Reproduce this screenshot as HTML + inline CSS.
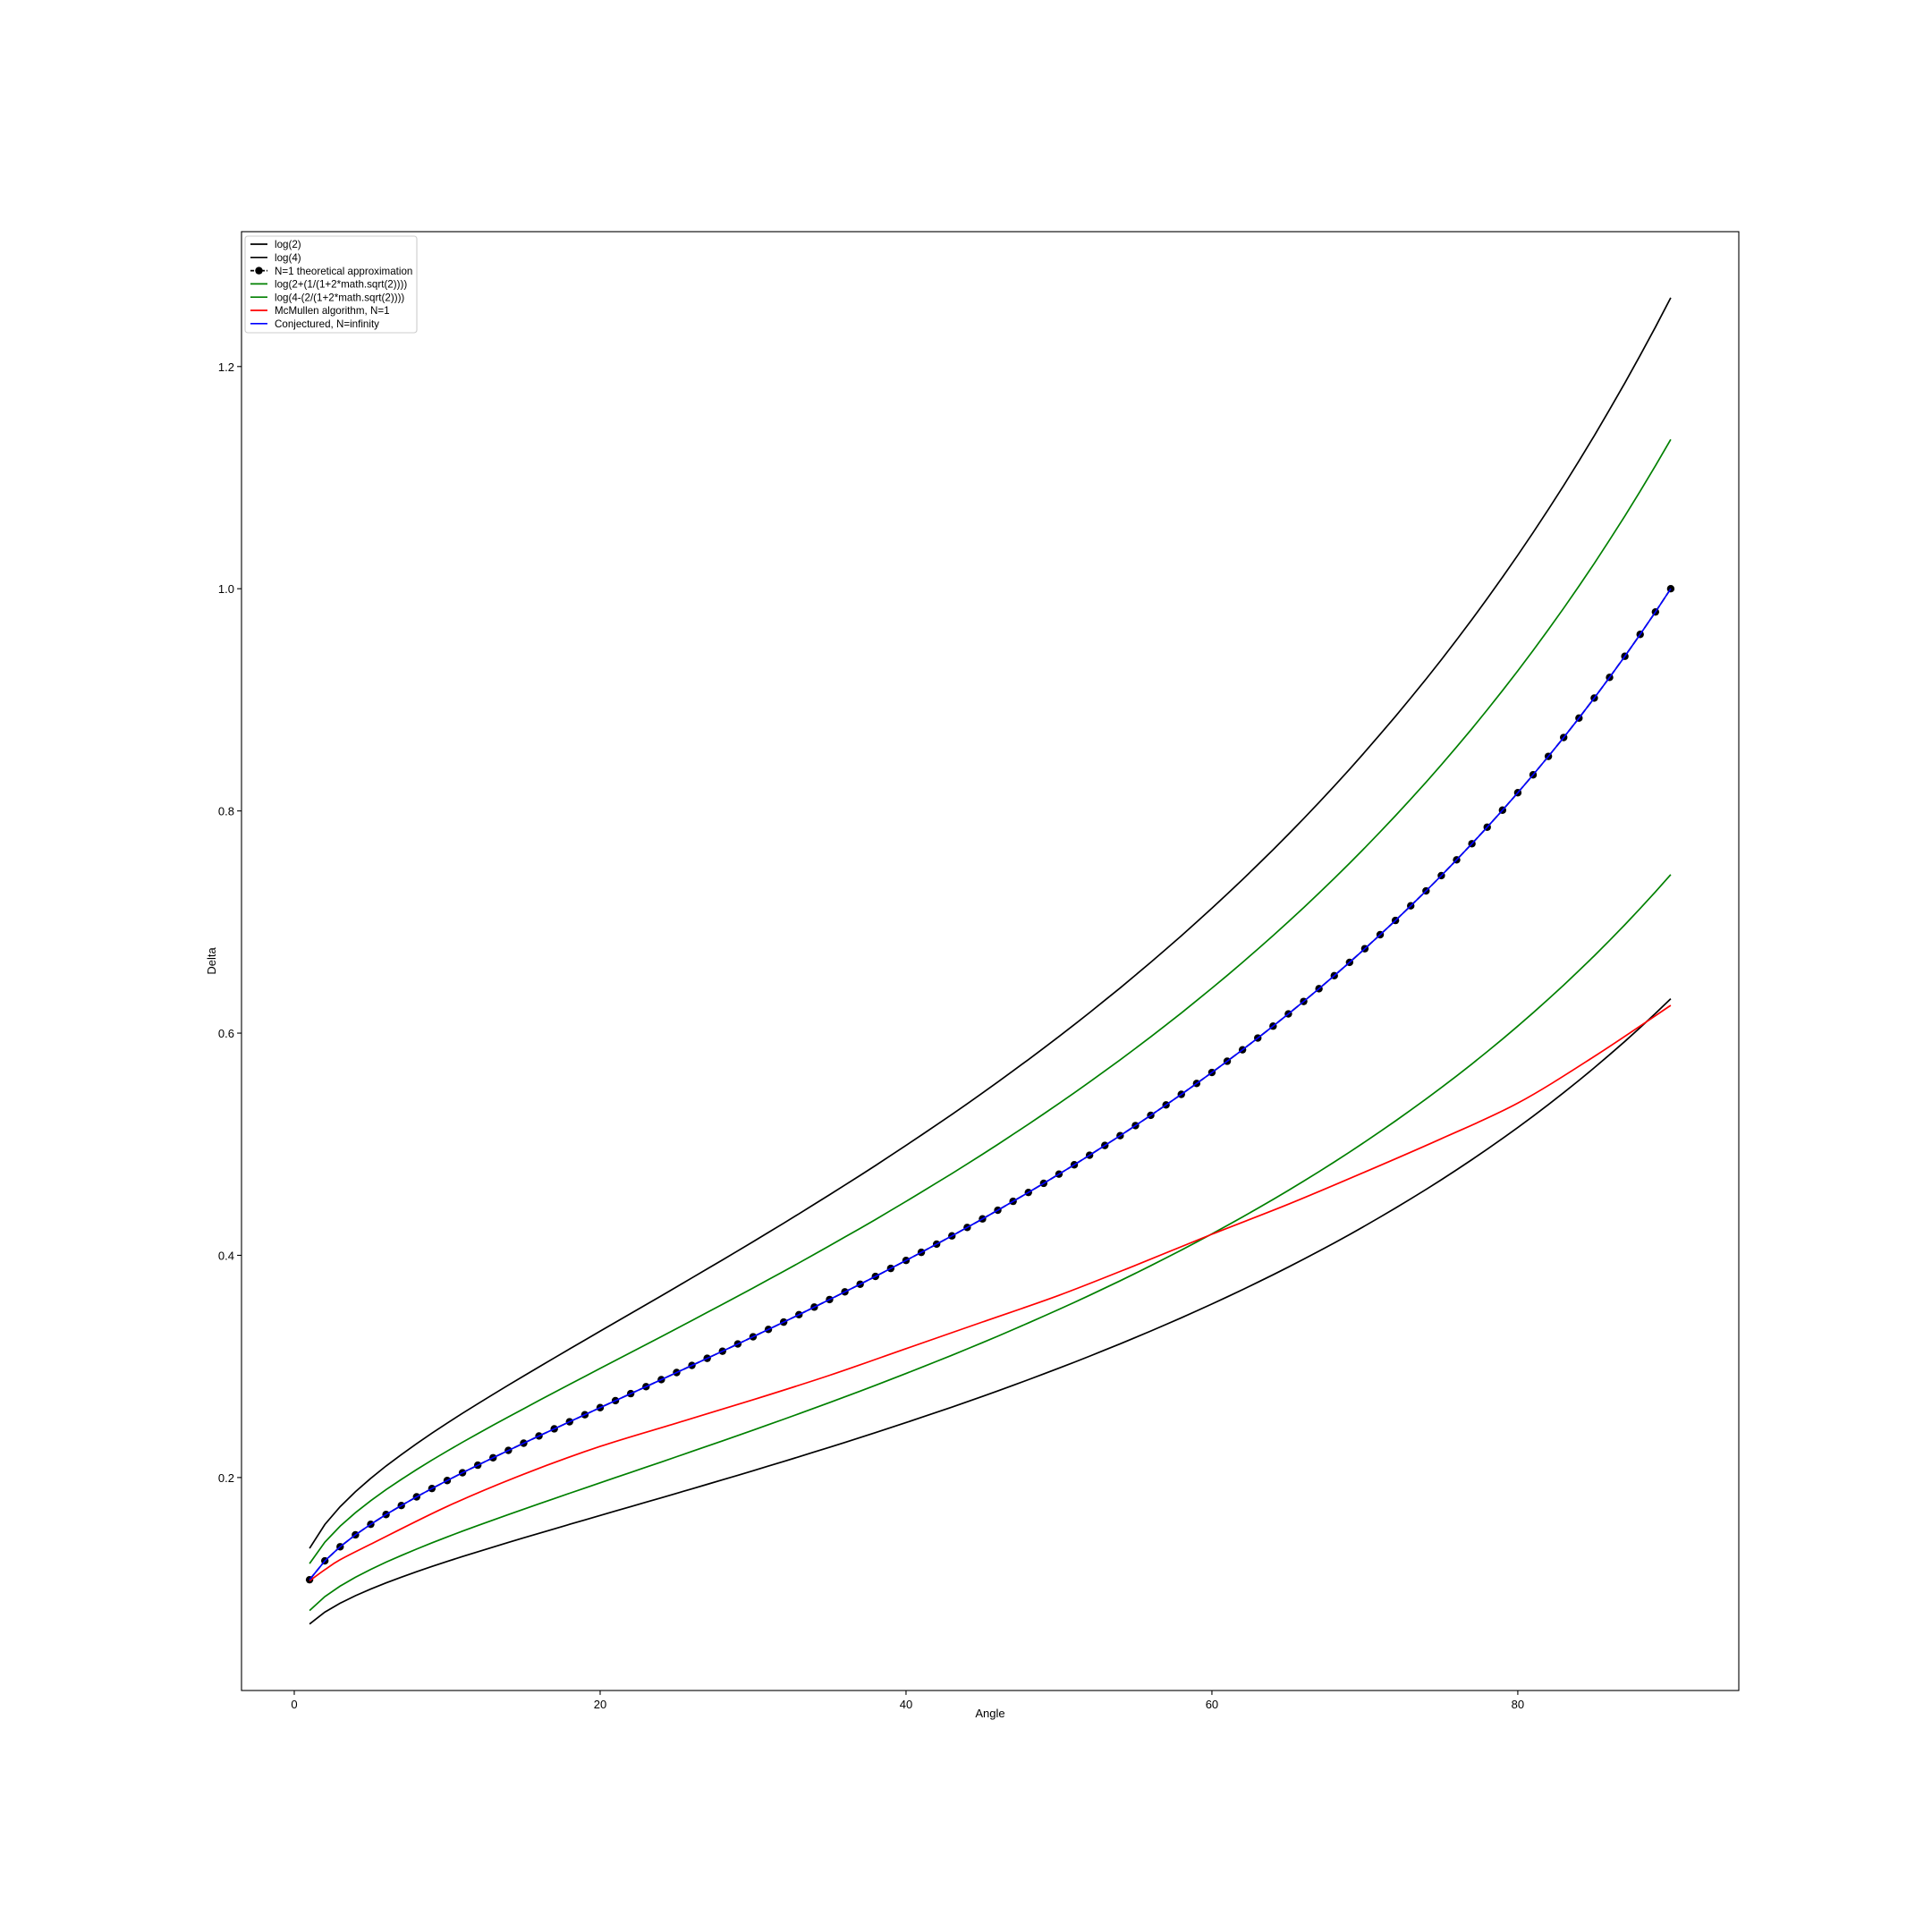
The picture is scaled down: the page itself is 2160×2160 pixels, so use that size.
<!DOCTYPE html>
<html><head><meta charset="utf-8"><style>
html,body{margin:0;padding:0;background:#fff;}
svg{display:block;font-family:"Liberation Sans","DejaVu Sans",sans-serif;}
</style></head><body>
<svg id="chart" width="2160" height="2160" viewBox="0 0 2160 2160" xmlns="http://www.w3.org/2000/svg">
<rect x="0" y="0" width="2160" height="2160" fill="#fff"/>
<g id="marks"></g>
<g id="axes"></g>
<g id="legend"></g>
</svg>
<script>
const conjectured = [0.1080,0.1250,0.1377,0.1484,0.1579,0.1667,0.1748,0.1826,0.1901,0.1973,
0.2043,0.2111,0.2178,0.2244,0.2309,0.2374,0.2438,0.2502,0.2565,0.2629,
0.2692,0.2755,0.2818,0.2881,0.2945,0.3009,0.3073,0.3137,0.3202,0.3267,
0.3333,0.3399,0.3466,0.3534,0.3602,0.3671,0.3740,0.3810,0.3882,0.3954,
0.4027,0.4101,0.4175,0.4251,0.4328,0.4406,0.4486,0.4566,0.4648,0.4731,
0.4815,0.4901,0.4989,0.5077,0.5168,0.5260,0.5354,0.5449,0.5547,0.5646,
0.5747,0.5850,0.5956,0.6063,0.6173,0.6285,0.6400,0.6517,0.6637,0.6760,
0.6886,0.7014,0.7146,0.7280,0.7418,0.7560,0.7705,0.7854,0.8007,0.8164,
0.8325,0.8491,0.8661,0.8836,0.9016,0.9202,0.9392,0.9589,0.9791,1.0000];
const boundFactors = [0.6309, 1.2619, 0.7427, 1.1344];
const boundLabels = ["log(2)","log(4)","log(2+(1/(1+2*math.sqrt(2))))","log(4-(2/(1+2*math.sqrt(2))))"];
const boundColors = ["#000","#000","#008000","#008000"];
const mcAngles = [1,2,3,5,10,15,20,25,30,35,40,45,50,55,60,65,70,75,80,85,90];
const mcValues = [0.107,0.117,0.126,0.140,0.174,0.203,0.228,0.249,0.270,0.292,0.316,0.340,0.364,0.391,0.419,0.446,0.475,0.505,0.537,0.579,0.625];
const xTicks = [0,20,40,60,80];
const yTicks = [0.2,0.4,0.6,0.8,1.0,1.2];
const yTickLabels = ["0.2","0.4","0.6","0.8","1.0","1.2"];

const L=270,R=1944,T=259,B=1890;
const X0=-3.45,X1=94.45,Y0=0.0083,Y1=1.3214;
const LW=1.7;
function sx(v){return L+(v-X0)/(X1-X0)*(R-L);}
function sy(v){return B-(v-Y0)/(Y1-Y0)*(B-T);}
const NS="http://www.w3.org/2000/svg";
function mk(tag,attrs,parent){const e=document.createElementNS(NS,tag);for(const k in attrs)e.setAttribute(k,attrs[k]);parent.appendChild(e);return e;}
const marks=document.getElementById('marks');
const axes=document.getElementById('axes');
const legend=document.getElementById('legend');
const angles=conjectured.map((_,i)=>i+1);
function pathOf(xs,ys){return xs.map((x,i)=>(i?'L':'M')+sx(x).toFixed(2)+','+sy(ys[i]).toFixed(2)).join(' ');}
function smoothPath(xs,ys){
  const P=xs.map((x,i)=>[sx(x),sy(ys[i])]);
  let d='M'+P[0][0].toFixed(2)+','+P[0][1].toFixed(2);
  for(let i=0;i<P.length-1;i++){
    const p0=P[i-1]||P[i],p1=P[i],p2=P[i+1],p3=P[i+2]||P[i+1];
    const c1=[p1[0]+(p2[0]-p0[0])/6,p1[1]+(p2[1]-p0[1])/6];
    const c2=[p2[0]-(p3[0]-p1[0])/6,p2[1]-(p3[1]-p1[1])/6];
    d+=' C'+c1[0].toFixed(2)+','+c1[1].toFixed(2)+' '+c2[0].toFixed(2)+','+c2[1].toFixed(2)+' '+p2[0].toFixed(2)+','+p2[1].toFixed(2);
  }
  return d;
}

boundFactors.forEach((f,k)=>{
  const p=mk('path',{d:pathOf(angles,conjectured.map(v=>v*f)),fill:'none',stroke:boundColors[k],'stroke-width':LW},marks);
  
  
});
const nd=mk('path',{d:pathOf(angles,conjectured),fill:'none',stroke:'#000','stroke-width':LW,'stroke-dasharray':'7.7,3.3'},marks);


angles.forEach((a,i)=>{
  const c=mk('circle',{cx:sx(a),cy:sy(conjectured[i]),r:4.2,fill:'#000'},marks);
  
  
});
const mc=mk('path',{d:smoothPath(mcAngles,mcValues),fill:'none',stroke:'#ff0000','stroke-width':LW},marks);


const cj=mk('path',{d:pathOf(angles,conjectured),fill:'none',stroke:'#0000ff','stroke-width':LW},marks);



const fr=mk('rect',{x:L,y:T,width:R-L,height:B-T,fill:'none',stroke:'#000','stroke-width':1.1},axes);


xTicks.forEach(v=>{
  const t=mk('line',{x1:sx(v),x2:sx(v),y1:B,y2:B+4.9,stroke:'#000','stroke-width':1.1},axes);
  
  
  const tx=mk('text',{x:sx(v),y:B+20,'font-size':13,'text-anchor':'middle'},axes);
  tx.textContent=String(v);
  
  
});
yTicks.forEach((v,i)=>{
  const t=mk('line',{x1:L-4.9,x2:L,y1:sy(v),y2:sy(v),stroke:'#000','stroke-width':1.1},axes);
  
  
  const tx=mk('text',{x:L-8,y:sy(v)+5,'font-size':13,'text-anchor':'end'},axes);
  tx.textContent=yTickLabels[i];
  
  
});
const xt=mk('text',{x:(L+R)/2,y:1920,'font-size':13,'text-anchor':'middle'},axes);
xt.textContent='Angle';


const yt=mk('text',{x:0,y:0,'font-size':13,'text-anchor':'middle',transform:'translate(241,'+((T+B)/2)+') rotate(-90)'},axes);
yt.textContent='Delta';



const lb=mk('rect',{x:274,y:264,width:192,height:108,rx:3,fill:'#fff','fill-opacity':0.8,stroke:'#ccc','stroke-width':1.1},legend);


const entries=[
 {t:boundLabels[0],c:'#000',d:null,m:false},
 {t:boundLabels[1],c:'#000',d:null,m:false},
 {t:'N=1 theoretical approximation',c:'#000',d:'7.7,3.3',m:true},
 {t:boundLabels[2],c:'#008000',d:null,m:false},
 {t:boundLabels[3],c:'#008000',d:null,m:false},
 {t:'McMullen algorithm, N=1',c:'#ff0000',d:null,m:false},
 {t:'Conjectured, N=infinity',c:'#0000ff',d:null,m:false}];
entries.forEach((e,i)=>{
  const y=273+i*14.8;
  const g=mk('g',{},legend);
  
  
  const a={x1:280,x2:299,y1:y,y2:y,stroke:e.c,'stroke-width':LW};
  if(e.d)a['stroke-dasharray']='4,2';
  mk('line',a,g);
  if(e.m)mk('circle',{cx:289.5,cy:y,r:4.2,fill:'#000'},g);
  const tx=mk('text',{x:307,y:y+4.2,'font-size':11.6},g);
  tx.textContent=e.t;
});
</script>
</body></html>
